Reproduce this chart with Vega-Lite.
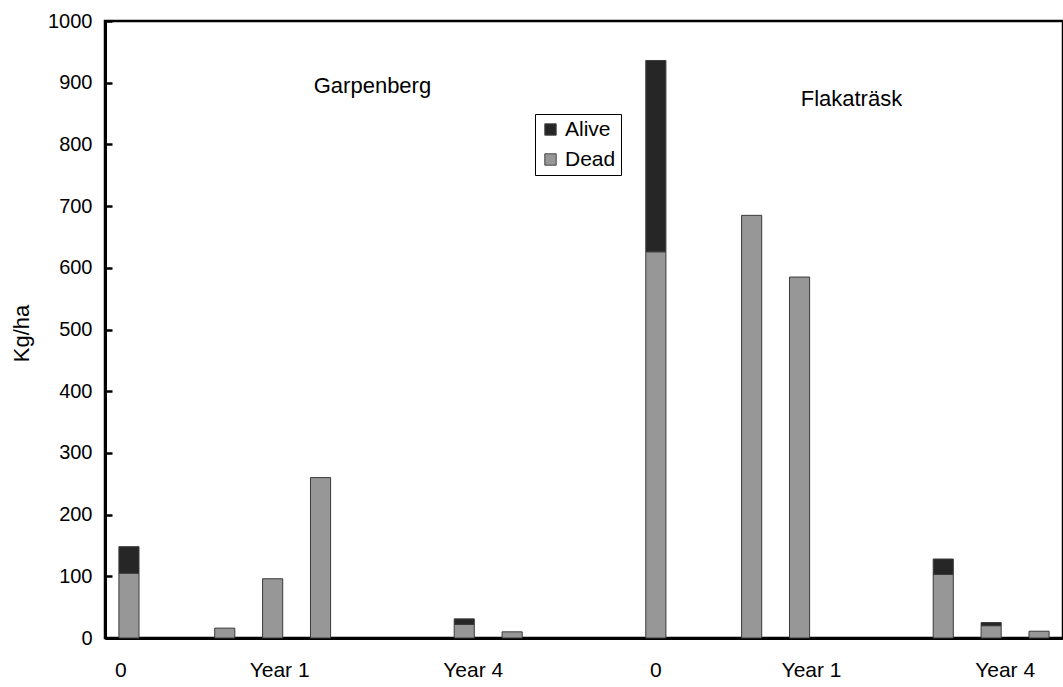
{
  "$schema": "https://vega.github.io/schema/vega-lite/v6.json",
  "autosize": "none",
  "width": 958,
  "height": 617,
  "padding": {"left": 105, "top": 21, "right": 0, "bottom": 49},
  "background": "white",
  "config": {
    "font": "Liberation Sans",
    "view": {"stroke": "black", "strokeWidth": 2.5},
    "axis": {"labelFont": "Liberation Sans", "titleFont": "Liberation Sans", "labelColor": "black", "titleColor": "black"}
  },
  "datasets": {
    "biomass": [
      {"site": "Garpenberg", "slot": "G-0", "status": "Dead", "kg": 105},
      {"site": "Garpenberg", "slot": "G-0", "status": "Alive", "kg": 43},
      {"site": "Garpenberg", "slot": "G-Y1a", "status": "Dead", "kg": 16},
      {"site": "Garpenberg", "slot": "G-Y1b", "status": "Dead", "kg": 96},
      {"site": "Garpenberg", "slot": "G-Y1c", "status": "Dead", "kg": 260},
      {"site": "Garpenberg", "slot": "G-Y4b", "status": "Dead", "kg": 22},
      {"site": "Garpenberg", "slot": "G-Y4b", "status": "Alive", "kg": 9},
      {"site": "Garpenberg", "slot": "G-Y4c", "status": "Dead", "kg": 10},
      {"site": "Flakaträsk", "slot": "F-0", "status": "Dead", "kg": 626},
      {"site": "Flakaträsk", "slot": "F-0", "status": "Alive", "kg": 310},
      {"site": "Flakaträsk", "slot": "F-Y1a", "status": "Dead", "kg": 685},
      {"site": "Flakaträsk", "slot": "F-Y1b", "status": "Dead", "kg": 585},
      {"site": "Flakaträsk", "slot": "F-Y4a", "status": "Dead", "kg": 103},
      {"site": "Flakaträsk", "slot": "F-Y4a", "status": "Alive", "kg": 25},
      {"site": "Flakaträsk", "slot": "F-Y4b", "status": "Dead", "kg": 20},
      {"site": "Flakaträsk", "slot": "F-Y4b", "status": "Alive", "kg": 5},
      {"site": "Flakaträsk", "slot": "F-Y4c", "status": "Dead", "kg": 11}
    ],
    "sites": [
      {"label": "Garpenberg", "slot": "G-gap2", "kg": 895},
      {"label": "Flakaträsk", "slot": "F-Y1c", "kg": 873}
    ]
  },
  "encoding": {
    "x": {
      "field": "slot",
      "type": "nominal",
      "scale": {
        "domain": ["G-0", "G-gap1", "G-Y1a", "G-Y1b", "G-Y1c", "G-gap2", "G-Y4a", "G-Y4b", "G-Y4c", "gap-a", "gap-b", "F-0", "F-gap1", "F-Y1a", "F-Y1b", "F-Y1c", "F-gap2", "F-Y4a", "F-Y4b", "F-Y4c"],
        "paddingInner": 0.58,
        "paddingOuter": 0.29
      },
      "axis": {
        "title": null,
        "ticks": false,
        "domainColor": "black",
        "domainWidth": 3,
        "labelAngle": 0,
        "labelFontSize": 21,
        "labelPadding": 21,
        "labelOverlap": false,
        "labelOffset": {
          "condition": [
            {"test": "datum.value == 'G-0'", "value": -8},
            {"test": "datum.value == 'G-Y1b'", "value": 7},
            {"test": "datum.value == 'G-Y4b'", "value": 9},
            {"test": "datum.value == 'F-Y1b'", "value": 12},
            {"test": "datum.value == 'F-Y4b'", "value": 14}
          ],
          "value": 0
        },
        "labelExpr": "(datum.value == 'G-0' || datum.value == 'F-0') ? '0' : (datum.value == 'G-Y1b' || datum.value == 'F-Y1b') ? 'Year 1' : (datum.value == 'G-Y4b' || datum.value == 'F-Y4b') ? 'Year 4' : ''"
      }
    },
    "y": {
      "field": "kg",
      "type": "quantitative",
      "scale": {"domain": [0, 1000], "nice": false},
      "axis": {
        "title": "Kg/ha",
        "titleFontSize": 22,
        "titleFontWeight": "normal",
        "titleX": -84,
        "titleY": 312,
        "titleBaseline": "middle",
        "values": [0, 100, 200, 300, 400, 500, 600, 700, 800, 900, 1000],
        "format": "d",
        "grid": false,
        "labelFontSize": 20,
        "labelPadding": 20,
        "tickSize": -7,
        "tickWidth": 2.5,
        "tickColor": "black",
        "domainColor": "black",
        "domainWidth": 3
      }
    }
  },
  "layer": [
    {
      "data": {"name": "biomass"},
      "mark": {"type": "bar", "stroke": "#3a3a3a", "strokeWidth": 1},
      "encoding": {
        "y": {"field": "kg", "type": "quantitative", "stack": "zero"},
        "color": {
          "field": "status",
          "type": "nominal",
          "scale": {"domain": ["Alive", "Dead"], "range": ["#262626", "#979797"]},
          "legend": {
            "title": null,
            "orient": "none",
            "legendX": 430,
            "legendY": 93,
            "direction": "vertical",
            "strokeColor": "black",
            "fillColor": "white",
            "padding": 5,
            "symbolType": "square",
            "symbolSize": 130,
            "symbolStrokeColor": "#444",
            "symbolStrokeWidth": 1,
            "labelFontSize": 21,
            "labelColor": "black",
            "labelOffset": 4,
            "rowPadding": 8
          }
        },
        "order": {"field": "status", "sort": "descending"}
      }
    },
    {
      "data": {"name": "sites"},
      "mark": {"type": "text", "fontSize": 22, "color": "black", "align": "center", "baseline": "middle", "dx": 4},
      "encoding": {
        "text": {"field": "label"}
      }
    }
  ]
}
